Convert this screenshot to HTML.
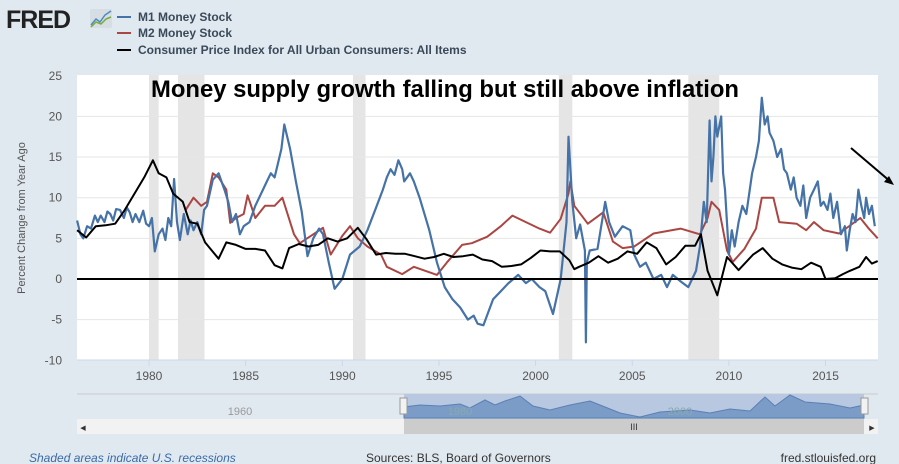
<!DOCTYPE html>
<html><head><meta charset="utf-8"><style>
html,body{margin:0;padding:0;background:#e1e9f0;}
svg{display:block;font-family:"Liberation Sans",sans-serif;}
</style></head><body>
<svg id="c" width="899" height="464" viewBox="0 0 899 464">
<rect x="0" y="0" width="899" height="464" fill="#e1e9f0"/>
<g>
<text x="6" y="28" font-size="25" font-weight="bold" fill="#222" letter-spacing="-1">FRED</text>
<rect x="90" y="9" width="22" height="19" fill="#d6dde3" rx="2"/>
<polyline points="91,25 96,19 100,22 105,15 111,11" fill="none" stroke="#4a8bc2" stroke-width="1.5"/>
<polyline points="91,27 96,22 101,24 106,19 111,17" fill="none" stroke="#7aab3a" stroke-width="1.5"/>
</g>
<g font-size="12" font-weight="bold" fill="#3a4a5a">
<line x1="117" y1="17" x2="131" y2="17" stroke="#4572a7" stroke-width="2"/>
<text x="138" y="21">M1 Money Stock</text>
<line x1="117" y1="33" x2="131" y2="33" stroke="#aa4643" stroke-width="2"/>
<text x="138" y="37">M2 Money Stock</text>
<line x1="117" y1="50" x2="131" y2="50" stroke="#000" stroke-width="2"/>
<text x="138" y="54">Consumer Price Index for All Urban Consumers: All Items</text>
</g>
<rect x="77" y="75" width="801" height="285" fill="#fff"/>
<g id="rec"></g><g id="grid"></g><g id="series"></g>
<text x="151" y="97" font-size="24" font-weight="bold" fill="#000" textLength="588" lengthAdjust="spacingAndGlyphs">Money supply growth falling but still above inflation</text>
<text transform="translate(25,218) rotate(-90)" text-anchor="middle" font-size="11" fill="#555">Percent Change from Year Ago</text>
<g>
<line x1="851" y1="148" x2="891" y2="182" stroke="#000" stroke-width="2"/>
<polygon points="894,185 884,182 889,176" fill="#000"/>
</g>
<g>
<line x1="77" y1="394" x2="878" y2="394" stroke="#ccc"/>
<rect x="404" y="394" width="460" height="25" fill="#b8c8e0"/>
<path d="M404,418 L404,407 L420,405 L440,406 L460,404 L470,408 L485,400 L495,405 L505,401 L520,396 L533,406 L550,410 L570,405 L590,401 L600,405 L620,413 L640,417 L660,412 L690,410 L710,413 L730,409 L750,411 L765,397 L775,406 L790,395 L805,402 L830,404 L850,408 L864,405 L864,418 Z" fill="#7c9cc8" stroke="#5b7fb5"/>
<text x="240" y="415" font-size="11" fill="#999" text-anchor="middle">1960</text>
<text x="460" y="415" font-size="11" fill="#8aa" text-anchor="middle">1980</text>
<text x="680" y="415" font-size="11" fill="#8aa" text-anchor="middle">2000</text>
<rect x="400" y="398" width="7" height="16" fill="#f2f2f2" stroke="#999"/>
<rect x="861" y="398" width="7" height="16" fill="#f2f2f2" stroke="#999"/>
<rect x="77" y="419" width="801" height="15" fill="#f2f2f2"/>
<rect x="404" y="419" width="460" height="15" fill="#cccccc"/>
<text x="634" y="430" font-size="9" fill="#333" text-anchor="middle">III</text>
<text x="83" y="430" font-size="7" fill="#333" text-anchor="middle">◀</text>
<text x="872" y="430" font-size="7" fill="#333" text-anchor="middle">▶</text>
</g>
<text x="29" y="462" font-size="12" font-style="italic" fill="#3a6aa8">Shaded areas indicate U.S. recessions</text>
<text x="366" y="462" font-size="12" fill="#333">Sources: BLS, Board of Governors</text>
<text x="876" y="462" font-size="12" fill="#333" text-anchor="end">fred.stlouisfed.org</text>
</svg>
<script>
const yTicks=[25,20,15,10,5,0,-5,-10];
const xTicks=[1980,1985,1990,1995,2000,2005,2010,2015];
const recStart=[1980.0,1981.5,1990.55,2001.2,2007.9];
const recEnd=[1980.5,1982.87,1991.2,2001.9,2009.5];
const m1Years=[1976.28,1976.45,1976.6,1976.8,1977.0,1977.2,1977.35,1977.5,1977.7,1977.85,1978.0,1978.15,1978.3,1978.5,1978.7,1978.85,1979.0,1979.15,1979.3,1979.5,1979.7,1979.85,1980.0,1980.15,1980.3,1980.5,1980.7,1980.85,1981.0,1981.15,1981.3,1981.45,1981.6,1981.8,1982.0,1982.15,1982.3,1982.5,1982.7,1982.85,1983.0,1983.3,1983.6,1983.9,1984.1,1984.3,1984.5,1984.7,1984.9,1985.2,1985.5,1985.9,1986.1,1986.3,1986.5,1986.7,1986.85,1987.0,1987.15,1987.3,1987.6,1987.9,1988.2,1988.5,1988.8,1989.0,1989.3,1989.6,1990.0,1990.4,1990.9,1991.3,1991.7,1992.1,1992.3,1992.5,1992.7,1992.9,1993.1,1993.2,1993.5,1993.7,1994.0,1994.5,1994.9,1995.3,1995.7,1996.1,1996.5,1996.8,1997.0,1997.3,1997.8,1998.2,1998.6,1999.1,1999.5,1999.8,2000.2,2000.5,2000.9,2001.3,2001.6,2001.7,2001.9,2002.1,2002.3,2002.55,2002.6,2002.65,2002.8,2003.2,2003.6,2003.8,2004.1,2004.5,2004.9,2005.1,2005.4,2005.7,2006.1,2006.5,2006.8,2007.1,2007.5,2007.9,2008.3,2008.5,2008.7,2008.85,2009.0,2009.1,2009.2,2009.3,2009.4,2009.6,2009.7,2009.8,2010.0,2010.15,2010.3,2010.5,2010.7,2010.9,2011.2,2011.4,2011.55,2011.7,2011.85,2012.0,2012.1,2012.3,2012.5,2012.7,2012.85,2013.0,2013.2,2013.35,2013.5,2013.7,2013.85,2014.0,2014.2,2014.4,2014.6,2014.75,2014.9,2015.1,2015.25,2015.4,2015.6,2015.8,2016.0,2016.1,2016.25,2016.4,2016.55,2016.7,2016.85,2017.0,2017.1,2017.25,2017.4,2017.55,2017.7];
const m1Vals=[7.2,5.5,5.0,6.5,6.2,7.8,7.0,7.8,7.0,8.3,8.0,7.2,8.6,8.5,7.5,8.8,8.2,7.0,8.0,7.0,8.4,6.8,6.5,7.5,3.4,5.5,6.2,4.8,7.5,6.5,12.3,7.0,4.8,8.0,5.5,7.2,6.0,7.0,5.5,8.5,9.0,12.2,13.0,11.0,9.5,7.0,8.0,5.5,6.5,7.0,9.0,11.0,12.0,13.0,12.5,14.5,16.0,19.0,17.5,16.0,12.0,8.3,2.8,5.0,6.2,5.5,2.0,-1.2,0.0,3.0,4.0,6.0,8.5,11.0,12.5,13.5,12.8,14.6,13.5,12.0,13.0,12.0,10.0,6.0,2.0,-1.0,-2.5,-3.5,-5.0,-4.5,-5.5,-5.7,-2.5,-1.5,-0.5,0.5,-0.5,0.0,-1.0,-1.5,-4.3,0.0,7.0,17.5,9.5,5.0,6.7,3.5,-7.8,2.0,3.5,3.7,9.5,7.0,5.2,6.5,6.0,3.0,1.5,2.0,0.0,0.5,-1.0,0.5,-0.3,-1.0,1.0,4.0,9.5,7.0,19.5,12.0,15.0,20.0,17.5,20.0,13.0,11.0,3.0,6.0,4.0,7.0,9.0,8.0,13.0,15.0,17.0,22.3,19.0,20.0,18.0,17.0,15.0,16.0,13.5,13.0,11.0,12.5,10.0,9.0,11.5,7.5,10.0,11.0,12.0,9.0,9.5,8.5,10.5,7.5,9.5,5.5,6.5,3.5,6.0,8.0,7.0,11.0,9.0,7.5,10.0,8.0,9.0,6.5];
const m2Years=[1981.9,1982.3,1982.7,1983.0,1983.3,1983.6,1984.0,1984.2,1984.5,1984.9,1985.1,1985.5,1986.0,1986.5,1986.9,1987.5,1987.8,1988.5,1989.0,1989.4,1990.0,1990.4,1990.8,1991.3,1992.0,1992.3,1993.1,1993.7,1994.9,1995.4,1996.2,1996.7,1997.5,1998.2,1998.8,1999.5,2000.2,2000.75,2001.3,2001.7,2001.8,2002.0,2002.7,2003.5,2004.0,2004.5,2005.1,2006.1,2007.5,2008.5,2008.9,2009.1,2009.5,2009.9,2010.2,2010.8,2011.4,2011.7,2012.3,2012.6,2013.5,2014.0,2014.4,2014.9,2015.7,2016.8,2017.2,2017.7];
const m2Vals=[8.5,10.0,9.0,9.5,13.0,12.5,11.0,6.9,7.5,8.0,10.3,7.5,9.0,9.0,10.0,5.5,4.4,5.5,6.3,3.0,5.3,6.5,5.0,4.0,3.0,1.5,0.6,1.5,0.5,2.0,4.2,4.4,5.2,6.5,7.8,7.0,6.2,5.7,7.4,10.5,12.0,9.0,6.8,8.2,4.6,3.8,4.0,5.6,6.2,5.5,7.5,9.5,8.5,3.5,2.1,3.7,6.2,10.0,10.0,7.0,6.8,6.0,7.0,6.0,5.6,7.5,6.3,5.0];
const cpiYears=[1976.28,1976.75,1977.25,1977.75,1978.25,1978.75,1979.25,1979.75,1980.2,1980.5,1980.9,1981.25,1981.75,1982.1,1982.5,1982.9,1983.25,1983.6,1984.0,1984.5,1985.0,1985.5,1986.0,1986.5,1986.9,1987.25,1987.75,1988.25,1988.75,1989.25,1989.75,1990.25,1990.8,1991.25,1991.75,1992.25,1992.75,1993.25,1993.75,1994.25,1994.75,1995.25,1995.75,1996.25,1996.75,1997.25,1997.75,1998.25,1998.75,1999.25,1999.75,2000.25,2000.75,2001.25,2001.75,2002.0,2002.25,2002.75,2003.25,2003.75,2004.25,2004.75,2005.25,2005.75,2006.25,2006.75,2007.25,2007.75,2008.25,2008.55,2008.9,2009.4,2009.9,2010.5,2011.25,2011.75,2012.25,2012.75,2013.25,2013.75,2014.25,2014.75,2015.0,2015.5,2015.9,2016.25,2016.75,2017.1,2017.4,2017.7];
const cpiVals=[6.0,5.1,6.5,6.6,6.8,8.5,10.5,12.5,14.6,13.0,12.5,10.5,9.5,7.0,6.8,4.5,3.5,2.5,4.5,4.2,3.7,3.7,3.5,1.7,1.3,3.8,4.3,4.0,4.2,5.0,4.6,5.0,6.3,4.9,3.0,3.2,3.1,3.1,2.8,2.5,2.7,3.1,2.7,2.8,3.0,2.4,2.2,1.5,1.6,1.8,2.6,3.5,3.4,3.4,2.3,1.2,1.5,2.0,2.8,2.0,2.5,3.4,3.1,4.5,3.8,1.8,2.7,4.1,4.1,5.5,1.0,-2.0,2.7,1.1,3.0,3.8,2.5,1.8,1.4,1.2,2.0,1.5,0.0,0.1,0.6,1.0,1.5,2.7,1.9,2.2];
const X0=77,X1=878,Y0=75,Y1=360;
function xs(y){return 149+(y-1980)*19.33;}
function ys(v){return 279-v*8.13;}
const NS='http://www.w3.org/2000/svg';
function mk(t,a,p){const e=document.createElementNS(NS,t);for(const k in a)e.setAttribute(k,a[k]);p.appendChild(e);return e;}
const rec=document.getElementById('rec'),grid=document.getElementById('grid'),ser=document.getElementById('series'),svg=document.getElementById('c');
recStart.forEach((s,i)=>{const r=mk('rect',{x:xs(s),y:Y0,width:xs(recEnd[i])-xs(s),height:Y1-Y0,fill:'#e5e5e5'},rec);

});
yTicks.forEach(v=>{if(v!==0&&v!==-10&&v!==25){const l=mk('line',{x1:X0,x2:X1,y1:ys(v),y2:ys(v),stroke:'#e6e6e6'},grid);

}
const t=mk('text',{x:62,y:ys(v)+4,'text-anchor':'end','font-size':12,fill:'#555'},svg);t.textContent=v;

});
mk('line',{x1:X0,x2:X1,y1:Y1,y2:Y1,stroke:'#ccd6eb'},grid);
xTicks.forEach(y=>{const l=mk('line',{x1:xs(y),x2:xs(y),y1:Y1,y2:Y1+6,stroke:'#ccd6eb'},grid);


const t=mk('text',{x:xs(y),y:380,'text-anchor':'middle','font-size':12,fill:'#555'},svg);t.textContent=y;

});
function line(xa,va,col,name,w){const p=mk('polyline',{points:xa.map((x,i)=>xs(x).toFixed(1)+','+ys(va[i]).toFixed(1)).join(' '),fill:'none',stroke:col,'stroke-width':w,'stroke-linejoin':'round'},ser);

}
line(m2Years,m2Vals,'#aa4643','m2-line',2);
line(m1Years,m1Vals,'#4572a7','m1-line',2.2);
line(cpiYears,cpiVals,'#000','cpi-line',2);
const z=mk('line',{x1:X0,x2:X1,y1:ys(0),y2:ys(0),stroke:'#000','stroke-width':2},ser);


</script>
</body></html>
